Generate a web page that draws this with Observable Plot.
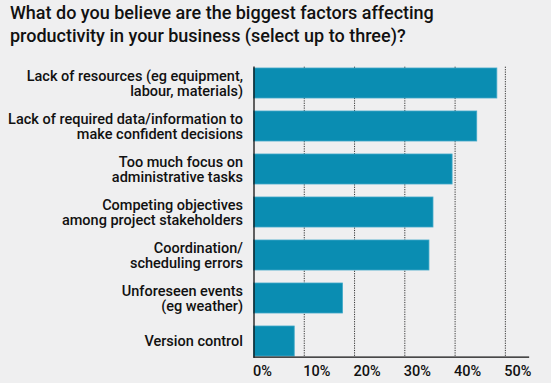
<!DOCTYPE html>
<html>
<head>
<meta charset="utf-8">
<script src="https://cdn.jsdelivr.net/npm/d3@7"></script>
<script src="https://cdn.jsdelivr.net/npm/@observablehq/plot@0.6"></script>
<style>
  html, body { margin: 0; padding: 0; background: #efeff0; }
  body { width: 551px; height: 383px; overflow: hidden; font-family: Roboto, "Noto Sans", sans-serif; }
  #title { height: 50px; padding: 1px 0 0 10px; box-sizing: border-box; font-size: 18px; font-weight: 500; line-height: 23px; color: #111; }
  svg { display: block; }
</style>
</head>
<body>
<div id="title">What do you believe are the biggest factors affecting<br>productivity in your business (select up to three)?</div>
<div id="chart"></div>
<script>
const categories = [
  "Lack of resources (eg equipment,\nlabour, materials)",
  "Lack of required data/information to\nmake confident decisions",
  "Too much focus on\nadministrative tasks",
  "Competing objectives\namong project stakeholders",
  "Coordination/\nscheduling errors",
  "Unforeseen events\n(eg weather)",
  "Version control"
];
const values = [48.4, 44.4, 39.5, 35.7, 34.9, 17.7, 8.1];
const xTicks = [0, 10, 20, 30, 40, 50];
const gridTicks = [10, 20, 30, 40, 50];

const data = categories.map((c, i) => ({category: c, value: values[i]}));

const chart = Plot.plot({
  width: 551,
  height: 333,
  marginTop: 16.7,
  marginBottom: 26.3,
  marginLeft: 253.5,
  marginRight: 23,
  style: {background: "transparent", fontFamily: "Roboto, 'Noto Sans', sans-serif"},
  x: {domain: [0, 54.6], axis: null},
  y: {domain: categories, paddingInner: 0.3, paddingOuter: 0, axis: null},
  marks: [
    Plot.ruleX(gridTicks, {stroke: "#333", strokeWidth: 1, strokeDasharray: "1.2,1.2"}),
    Plot.barX(data, {y: "category", x: "value", fill: "#0a8db2", stroke: "#3fa9c8", strokeWidth: 0.8}),
    Plot.axisY({
      label: null, tickSize: 0, tickPadding: 11, fontSize: 14.5, fontWeight: 500, lineHeight: 1.06,
      fill: "#111", textAnchor: "end"
    }),
    Plot.axisX(xTicks, {
      label: null, tickSize: 0, tickPadding: 9, fontSize: 14.5, fontWeight: 500, fill: "#111",
      textAnchor: "start", tickFormat: d => d + "%", dx: -1
    }),
    Plot.frame({anchor: "left", stroke: "#111", strokeWidth: 1.3}),
    Plot.frame({anchor: "bottom", stroke: "#111", strokeWidth: 1.3})
  ]
});
document.getElementById("chart").appendChild(chart);
</script>
</body>
</html>
